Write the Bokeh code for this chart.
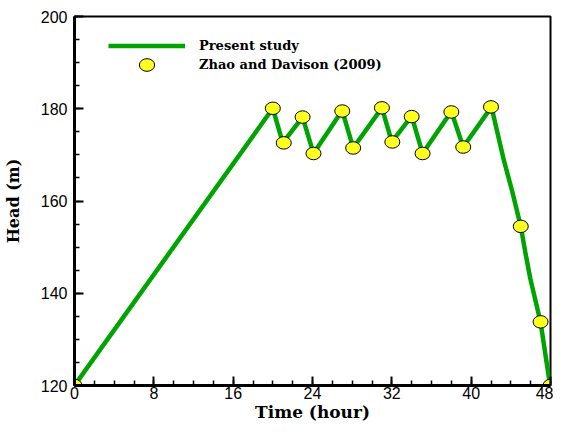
from bokeh.plotting import figure
from bokeh.models import Range1d, FixedTicker, Legend, LegendItem
from bokeh.embed import file_html
from bokeh.resources import INLINE

# Present study (line)
line_t = [0, 20, 21, 23, 24.1, 27, 28.1, 31, 32, 34, 35.1, 38, 39.2, 42.05,
          43.3, 44.15, 45.0, 45.46, 45.96, 47.0, 47.93, 48]
line_h = [120, 180.1, 172.6, 178.2, 170.3, 179.6, 171.5, 180.2, 172.8, 178.4, 170.3,
          179.4, 171.7, 180.4, 168.8, 162.0, 154.5, 148.9, 143.2, 133.7, 120.4, 120]

# Zhao and Davison (2009) (markers)
ref_t = [0, 20, 21.1, 23, 24.1, 27, 28.1, 31, 32.05, 34, 35.1, 38, 39.2, 42, 45, 47, 48]
ref_h = [120, 180.1, 172.6, 178.2, 170.3, 179.5, 171.5, 180.2, 172.8, 178.3, 170.3,
         179.3, 171.7, 180.4, 154.5, 133.8, 120]

x_ticks = [0, 8, 16, 24, 32, 40, 48]
y_ticks = [120, 140, 160, 180, 200]

p = figure(width=553, height=425, output_backend="svg", toolbar_location=None,
           x_range=Range1d(0, 48), y_range=Range1d(120, 200),
           min_border_left=74, min_border_top=16, min_border_right=3, min_border_bottom=40)

p.xgrid.visible = False
p.ygrid.visible = False
p.outline_line_color = "black"
p.outline_line_width = 2
p.outline_line_alpha = 1

p.xaxis.ticker = FixedTicker(ticks=x_ticks, minor_ticks=list(range(0, 49, 2)))
p.yaxis.ticker = FixedTicker(ticks=y_ticks, minor_ticks=list(range(120, 201, 5)))

for ax in (p.xaxis[0], p.yaxis[0]):
    ax.axis_line_width = 3
    ax.axis_line_color = "black"
    ax.major_tick_in = 9
    ax.major_tick_out = 0
    ax.minor_tick_in = 5
    ax.minor_tick_out = 0
    ax.major_tick_line_width = 2
    ax.minor_tick_line_width = 1.5
    ax.major_tick_line_color = "black"
    ax.minor_tick_line_color = "black"
    ax.major_label_text_font = "Liberation Sans"
    ax.major_label_text_font_size = "16px"
    ax.major_label_text_color = "black"
    ax.axis_label_text_font = "DejaVu Serif"
    ax.axis_label_text_font_style = "bold"
    ax.axis_label_text_color = "black"

p.xaxis.axis_label = "Time (hour)"
p.xaxis.axis_label_text_font_size = "17px"
p.xaxis.major_label_standoff = 1
p.xaxis.axis_label_standoff = 0
p.yaxis.axis_label = "Head (m)"
p.yaxis.axis_label_text_font_size = "16px"
p.yaxis.major_label_standoff = 7
p.yaxis.axis_label_standoff = 15

ln = p.line(line_t, line_h, line_color="#00A400", line_width=4.5)
mk = p.ellipse(ref_t, ref_h, width=15, height=12.5, width_units="screen",
               height_units="screen", fill_color="#FFFF20", line_color="black",
               line_width=1)

legend = Legend(items=[LegendItem(label="Present study", renderers=[ln]),
                       LegendItem(label="Zhao and Davison (2009)", renderers=[mk])],
                location=(34, 311), glyph_width=77, glyph_height=19, label_height=19,
                label_standoff=14, padding=0, spacing=0, margin=0,
                border_line_alpha=0, background_fill_alpha=0,
                label_text_font="DejaVu Serif", label_text_font_style="bold",
                label_text_font_size="13px", label_text_color="black")
p.add_layout(legend, "center")

open("out.html", "w").write(file_html(p, INLINE))
